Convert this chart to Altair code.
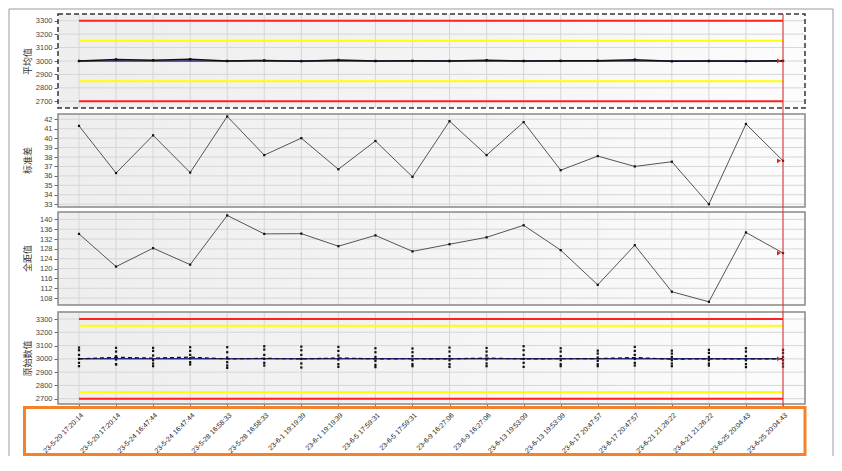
import altair as alt
import pandas as pd

labels = ["23-5-20 17:20:14", "23-5-20 17:20:14", "23-5-24 16:47:44", "23-5-24 16:47:44",
          "23-5-28 16:58:33", "23-5-28 16:58:33", "23-6-1 19:19:39", "23-6-1 19:19:39",
          "23-6-5 17:59:31", "23-6-5 17:59:31", "23-6-9 16:27:06", "23-6-9 16:27:06",
          "23-6-13 19:53:09", "23-6-13 19:53:09", "23-6-17 20:47:57", "23-6-17 20:47:57",
          "23-6-21 21:26:22", "23-6-21 21:26:22", "23-6-25 20:04:43", "23-6-25 20:04:43"]

mean_vals = [3000, 3012, 3006, 3013, 3000, 3004, 2999, 3007, 3000, 3001,
             3000, 3006, 3000, 3001, 3002, 3010, 2998, 3000, 2999, 3001]
std_vals = [41.3, 36.3, 40.3, 36.35, 42.3, 38.2, 40.0, 36.7, 39.7, 35.9,
            41.8, 38.2, 41.7, 36.6, 38.1, 37.0, 37.5, 33.0, 41.5, 37.6]
range_vals = [134.1, 120.8, 128.3, 121.6, 141.6, 134.1, 134.2, 129.1, 133.5, 127.0,
              129.9, 132.7, 137.6, 127.5, 113.4, 129.5, 110.6, 106.5, 134.7, 126.3]
raw_vals = [
    [3085, 3065, 3030, 3000, 2970, 2945],
    [3083, 3055, 3020, 2995, 2960, 2958],
    [3083, 3060, 3025, 2990, 2965, 2945],
    [3088, 3060, 3030, 3005, 2975, 2958],
    [3088, 3050, 3010, 2975, 2950, 2932],
    [3095, 3070, 3030, 3000, 2970, 2950],
    [3092, 3065, 3030, 3000, 2965, 2935],
    [3090, 3060, 3025, 2995, 2960, 2940],
    [3080, 3050, 3015, 2985, 2955, 2938],
    [3078, 3050, 3020, 2990, 2960, 2945],
    [3085, 3055, 3020, 2990, 2960, 2940],
    [3082, 3055, 3025, 2995, 2965, 2945],
    [3095, 3065, 3030, 3000, 2970, 2940],
    [3080, 3055, 3020, 2990, 2960, 2945],
    [3062, 3040, 3010, 2985, 2960, 2945],
    [3090, 3060, 3030, 3000, 2970, 2950],
    [3062, 3040, 3015, 2990, 2965, 2945],
    [3068, 3045, 3015, 2990, 2965, 2950],
    [3080, 3055, 3020, 2990, 2960, 2938],
    [3068, 3045, 3015, 2990, 2965, 2942],
]

titles = ["平均值", "标准差", "全距值", "原始数值"]
ticks1 = [2700, 2800, 2900, 3000, 3100, 3200, 3300]
ticks2 = [33, 34, 35, 36, 37, 38, 39, 40, 41, 42]
ticks3 = [108, 112, 116, 120, 124, 128, 132, 136, 140]
ticks4 = [2700, 2800, 2900, 3000, 3100, 3200, 3300]
red1, yellow1, center1 = [3300, 2700], [3150, 2850], [3000]
red4, yellow4, center4 = [3300, 2700], [3250, 2750], [3000]

n = len(labels)
idx = list(range(n))
df_idx = pd.DataFrame({"i": idx})
df_mean = pd.DataFrame({"i": idx, "v": mean_vals})
df_std = pd.DataFrame({"i": idx, "v": std_vals})
df_rng = pd.DataFrame({"i": idx, "v": range_vals})
df_raw = pd.DataFrame([{"i": i, "v": v} for i, vs in enumerate(raw_vals) for v in vs])
one = pd.DataFrame({"k": [0]})

W, H = 747, 390
LABEL_FONT = "Liberation Sans"
GRID = "#d6d6d6"

XSCALE = alt.Scale(domain=[0, n - 1], range=[21, 725], nice=False, zero=False)
label_expr = "[" + ",".join("'%s'" % s for s in labels) + "][datum.value]"
XAXIS = alt.Axis(values=idx, labelExpr=label_expr, labelAngle=315, labelFontSize=7,
                 labelFont=LABEL_FONT, labelColor="#222", labelOverlap=False, labelPadding=3,
                 tickSize=4, tickColor="#666", domain=False, grid=False, title=None)
X = alt.X("i:Q", scale=XSCALE, axis=XAXIS)


def xd(v):
    return alt.X(datum=v, type="quantitative", scale=XSCALE, axis=XAXIS)


def yaxis(title, values, ty):
    return alt.Axis(title=title, values=values, orient="left", domain=False, tickSize=4,
                    tickColor="#666", labelFontSize=7.5, labelFont=LABEL_FONT,
                    labelColor="#444", labelPadding=2, labelOverlap=False, grid=False,
                    format="d", titleFont="Noto Sans CJK SC",
                    titleFontSize=9, titleFontWeight="normal", titleColor="#333",
                    titleAngle=270, titleX=-31, titleY=ty, titleAlign="center",
                    titleBaseline="middle")


S1 = alt.Scale(domain=[2650, 3350], range=[94, 0], nice=False, zero=False)
S2 = alt.Scale(domain=[32.7, 42.56], range=[193, 100], nice=False, zero=False)
S3 = alt.Scale(domain=[105.2, 143.0], range=[291, 198], nice=False, zero=False)
S4 = alt.Scale(domain=[2660, 3353], range=[390, 298], nice=False, zero=False)
A1 = yaxis(titles[0], ticks1, 47)
A2 = yaxis(titles[1], ticks2, 146)
A3 = yaxis(titles[2], ticks3, 244)
A4 = yaxis(titles[3], ticks4, 344)

PANEL_Y = [(0, 94), (100, 193), (198, 291), (298, 390)]


def Y(S, A):
    return alt.Y("v:Q", scale=S, axis=A)


def box(x, x2, y, y2, **kw):
    return alt.Chart(one).mark_rect(**kw).encode(
        x=alt.value(x), x2=alt.value(x2), y=alt.value(y), y2=alt.value(y2))


grad = alt.LinearGradient(gradient="linear", x1=0, x2=1, y1=0, y2=0,
                          stops=[alt.GradientStop(color="#eeeeee", offset=0),
                                 alt.GradientStop(color="#f4f4f4", offset=0.5),
                                 alt.GradientStop(color="#fcfcfc", offset=1)])


def panel_base(k, ticks, S, A):
    top, bot = PANEL_Y[k]
    bg = box(0, W, top, bot, color=grad)
    vgrid = alt.Chart(df_idx).mark_rule(color=GRID, strokeWidth=1).encode(
        x=X, y=alt.value(top), y2=alt.value(bot))
    hgrid = alt.Chart(pd.DataFrame({"v": ticks})).mark_rule(color=GRID, strokeWidth=1).encode(
        x=alt.value(0), x2=alt.value(W), y=Y(S, A))
    return [bg, vgrid, hgrid]


def hlines(vals, color, S, A, width=2, dash=None):
    d = pd.DataFrame({"v": vals})
    kw = dict(color=color, strokeWidth=width)
    if dash:
        kw["strokeDash"] = dash
    return alt.Chart(d).mark_rule(**kw).encode(x=xd(0), x2=alt.datum(n - 1), y=Y(S, A))


def end_marker(df, S, A):
    return alt.Chart(df.tail(1)).mark_point(shape="triangle-right", filled=True, color="#e02020",
                                             size=22, xOffset=-4, opacity=1).encode(x=X, y=Y(S, A))


panel1 = alt.layer(
    *panel_base(0, ticks1, S1, A1),
    hlines(red1, "#ff2020", S1, A1),
    hlines(yellow1, "#ffff00", S1, A1),
    hlines(center1, "#2b2b8f", S1, A1, width=1.5),
    alt.Chart(df_mean).mark_line(color="#111", strokeWidth=1.5).encode(x=X, y=Y(S1, A1)),
    alt.Chart(df_mean).mark_square(color="#111", size=6, opacity=1).encode(x=X, y=Y(S1, A1)),
    end_marker(df_mean, S1, A1),
)

panel2 = alt.layer(
    *panel_base(1, ticks2, S2, A2),
    alt.Chart(df_std).mark_line(color="#555", strokeWidth=1).encode(x=X, y=Y(S2, A2)),
    alt.Chart(df_std).mark_square(color="#111", size=5, opacity=1).encode(x=X, y=Y(S2, A2)),
    end_marker(df_std, S2, A2),
)

panel3 = alt.layer(
    *panel_base(2, ticks3, S3, A3),
    alt.Chart(df_rng).mark_line(color="#555", strokeWidth=1).encode(x=X, y=Y(S3, A3)),
    alt.Chart(df_rng).mark_square(color="#111", size=5, opacity=1).encode(x=X, y=Y(S3, A3)),
    end_marker(df_rng, S3, A3),
)

panel4 = alt.layer(
    *panel_base(3, ticks4, S4, A4),
    hlines(red4, "#ff2020", S4, A4),
    hlines(yellow4, "#ffff00", S4, A4),
    hlines(center4, "#2b2b8f", S4, A4, width=1.5),
    alt.Chart(df_mean).mark_line(color="#111", strokeWidth=1.2, strokeDash=[4, 3]).encode(
        x=X, y=Y(S4, A4)),
    alt.Chart(df_raw).mark_square(color="#111", size=5, opacity=1).encode(x=X, y=Y(S4, A4)),
    alt.Chart(df_mean.tail(1)).mark_point(shape="triangle-right", filled=True, color="#e02020",
                                          size=22, xOffset=-4, opacity=1).encode(x=X, y=Y(S4, A4)),
)

borders = [
    box(0, W, 0, 94, fill=None, filled=False, stroke="#333", strokeWidth=1.5, strokeDash=[5, 3]),
    box(0, W, 100, 193, fill=None, filled=False, stroke="#888", strokeWidth=1.5),
    box(0, W, 198, 291, fill=None, filled=False, stroke="#888", strokeWidth=1.5),
    box(0, W, 298, 390, fill=None, filled=False, stroke="#888", strokeWidth=1.5),
]
vline = alt.Chart(one).mark_rule(color="#e03030", strokeWidth=1).encode(
    x=xd(n - 1), y=alt.value(0), y2=alt.value(392))
orange = box(-33.5, 747, 393.5, 440.5, fill=None, filled=False, stroke="#f5822a", strokeWidth=3)
frame = box(-49, 775, -5, 470, fill=None, filled=False, stroke="#9a9a9a", strokeWidth=1)

chart = alt.layer(
    panel1, panel2, panel3, panel4, *borders, vline, orange, frame
).resolve_scale(y="independent").resolve_axis(y="independent").properties(
    width=W, height=H,
    autosize=alt.AutoSizeParams(type="none"),
    padding={"left": 50, "top": 6, "right": 29, "bottom": 52},
    background="white",
).configure_view(fill=None, stroke=None)

chart.save("out.html", embed_options={"renderer": "svg", "actions": False})
